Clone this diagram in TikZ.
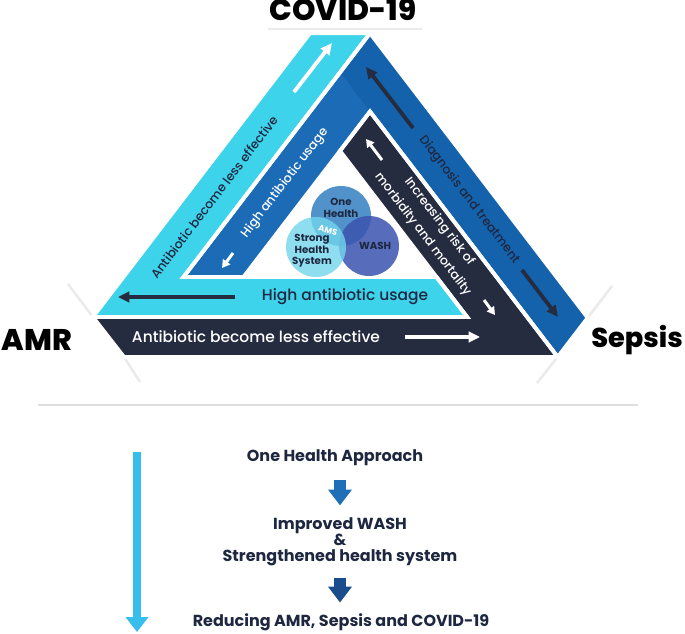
\documentclass[tikz,border=0pt]{standalone}
\usepackage{fontspec}
\setmainfont{Poppins}
\newfontfamily\medfont{Poppins Medium}
\newfontfamily\heavyfont{Poppins ExtraBold}
\usetikzlibrary{arrows.meta}

\definecolor{amrcyan}{HTML}{3DD3EA}
\definecolor{sepblue}{HTML}{1562AC}
\definecolor{sepbluelt}{HTML}{1C6BB7}
\definecolor{covnavy}{HTML}{262C40}
\definecolor{txtnavy}{HTML}{1E2740}
\definecolor{vennone}{HTML}{3F86C5}
\definecolor{vennstrong}{HTML}{72D6EC}
\definecolor{vennwash}{HTML}{3A52AE}
\definecolor{flowblue}{HTML}{1E6FB7}
\definecolor{flowdark}{HTML}{1B4C8B}

\begin{document}
\begin{tikzpicture}[x=0.02cm,y=-0.02cm]
    %define styles
    \tikzset{
        band/.style={draw=white, line width=2.2pt, line join=miter},
        corner/.style={text=black, inner sep=0pt},
        bandtext/.style={font=\fontsize{8.8}{10}\selectfont\medfont, inner sep=0pt},
        sidetext/.style={font=\fontsize{7.1}{11.8}\selectfont\medfont, inner sep=0pt, align=center},
        venntext/.style={font=\fontsize{5.8}{6.6}\selectfont\bfseries, text=txtnavy, inner sep=0pt, align=center},
        flowtext/.style={font=\fontsize{9.1}{9}\selectfont\bfseries, text=txtnavy, inner sep=0pt, align=center},
        bandarrow/.style={line width=2.2pt, -{Triangle[width=6pt,length=6.5pt]}},
        smallarrow/.style={line width=1.7pt, -{Triangle[width=5pt,length=4.5pt]}},
        blockarrow/.style={line width=6.8pt, -{Triangle[width=13pt,length=9pt]}},
        shadow/.style={draw=black!8, line width=1.5pt},
    }
    \useasboundingbox (0,0) rectangle (685,634);

    %define triangle corners
    \coordinate (c1) at (310.0,33.2);
    \coordinate (c2) at (370.0,33.2);
    \coordinate (c3) at (183.5,277);
    \coordinate (c4) at (436.5,277);
    \coordinate (c5) at (467.1,317);
    \coordinate (c6) at (92.9,317);
    \coordinate (d2) at (587.7,317.8);
    \coordinate (d3) at (557.7,357);
    \coordinate (d4) at (370.0,111.6);
    \coordinate (d5) at (340.0,150.9);
    \coordinate (d6) at (243.5,277);
    \coordinate (fold) at (340.0,72.4);
    \coordinate (n2) at (124,357);

    %faint shadows
    \draw[shadow] (268,29) -- (422,29);
    \draw[shadow] (68,284) -- (c6);
    \draw[shadow] (n2) -- (140,382);
    \draw[shadow] (612,286) -- (d2);
    \draw[shadow] (d3) -- (537,383);

    %define bands
    \fill[amrcyan] (c1) -- (c2) -- (c3) -- (c4) -- (c5) -- (c6) -- cycle;
    \fill[sepblue] (c2) -- (d2) -- (d3) -- (d4) -- (d5) -- (d6) -- (c3) -- cycle;
    \fill[sepbluelt] (c3) -- (fold) -- (d4) -- (d5) -- (d6) -- cycle;
    \fill[covnavy] (c6) -- (n2) -- (d3) -- (d4) -- (d5) -- (c5) -- cycle;
    \draw[band] (c1) -- (c2) -- (c3) -- (c4) -- (c5) -- (c6) -- cycle;
    \draw[band] (c2) -- (d2) -- (d3) -- (d4) -- (d5) -- (d6) -- (c3) -- cycle;
    \draw[band] (c6) -- (n2) -- (d3) -- (d4) -- (d5) -- (c5) -- cycle;

    %define venn
    \fill[vennone, opacity=0.9] (341,216) circle (30);
    \fill[vennwash, opacity=0.85] (369,246) circle (30);
    \fill[vennstrong, opacity=0.8] (316,247) circle (30);
    \node[venntext] (onehealth) at (341,208) {One\\Health};
    \node[venntext] (strong) at (312,251) {Strong\\Health\\System};
    \node[venntext] (wash) at (375,246) {WASH};
    \node[venntext, text=white, font=\fontsize{4.8}{5}\selectfont\bfseries, rotate=-15] (ams) at (328,230) {AMS};

    %define labels
    \node[corner, font=\fontsize{17}{19}\selectfont\heavyfont] (covid) at (343,9) {COVID-19};
    \node[corner, font=\fontsize{17}{19}\selectfont\heavyfont] (amr) at (37,340) {AMR};
    \node[corner, font=\fontsize{15.5}{17}\selectfont\heavyfont] (sepsis) at (637,340) {Sepsis};

    \node[bandtext, text=white] (navylbl) at (256,337) {Antibiotic become less effective};
    \node[bandtext, text=txtnavy] (cyanbottom) at (345,297) {High antibiotic usage};
    \node[sidetext, text=txtnavy, rotate=52.6] (cyanside) at (214,197) {Antibiotic become less effective};
    \node[sidetext, text=white, rotate=52.6] (blueside) at (285,183) {High antibiotic usage};
    \node[sidetext, text=txtnavy, rotate=-52.6] (diagnosis) at (469,200) {Diagnosis and treatment};
    \node[sidetext, text=white, rotate=-52.6] (risk) at (431,228) {Increasing risk of\\morbidity and mortality};

    %define band arrows
    \coordinate (wa1) at (405,337);
    \coordinate (wa2) at (480,337);
    \coordinate (ba1) at (235,297);
    \coordinate (ba2) at (118,297);
    \coordinate (wu1) at (294,92);
    \coordinate (wu2) at (332,43);
    \coordinate (bu1) at (413,128);
    \coordinate (bu2) at (366,67);
    \coordinate (bd1) at (522,270);
    \coordinate (bd2) at (558,317);
    \coordinate (sb1) at (233,253);
    \coordinate (sb2) at (222,268);
    \coordinate (su1) at (382,160);
    \coordinate (su2) at (366,139);
    \coordinate (sd1) at (484,300);
    \coordinate (sd2) at (495,315);
    \draw[bandarrow, white] (wa1) -- (wa2);
    \draw[bandarrow, covnavy] (ba1) -- (ba2);
    \draw[bandarrow, white] (wu1) -- (wu2);
    \draw[bandarrow, covnavy] (bu1) -- (bu2);
    \draw[bandarrow, covnavy] (bd1) -- (bd2);
    \draw[smallarrow, white] (sb1) -- (sb2);
    \draw[smallarrow, white] (su1) -- (su2);
    \draw[smallarrow, white] (sd1) -- (sd2);

    %define lower part
    \coordinate (rule1) at (38,405);
    \coordinate (rule2) at (638,405);
    \draw[black!13, line width=1.2pt] (rule1) -- (rule2);
    \node[flowtext] (approach) at (335,458) {One Health Approach};
    \node[flowtext] (improve) at (340,542) {Improved WASH\\\&\\Strengthened health system};
    \node[flowtext] (reduce) at (341,622) {Reducing AMR, Sepsis and COVID-19};
    \draw[blockarrow, flowblue, shorten <=7.5pt, shorten >=7pt] (approach.south -| 340,0) -- (improve.north -| 340,0);
    \draw[blockarrow, flowdark, shorten <=6.5pt, shorten >=6pt] (improve.south -| 340,0) -- (reduce.north -| 340,0);
    \coordinate (flowtop) at (137,452);
    \coordinate (flowend) at (137,632);
    \draw[line width=4pt, amrcyan!90!blue, -{Triangle[width=12.5pt,length=8.5pt]}] (flowtop) -- (flowend);
\end{tikzpicture}
\end{document}
